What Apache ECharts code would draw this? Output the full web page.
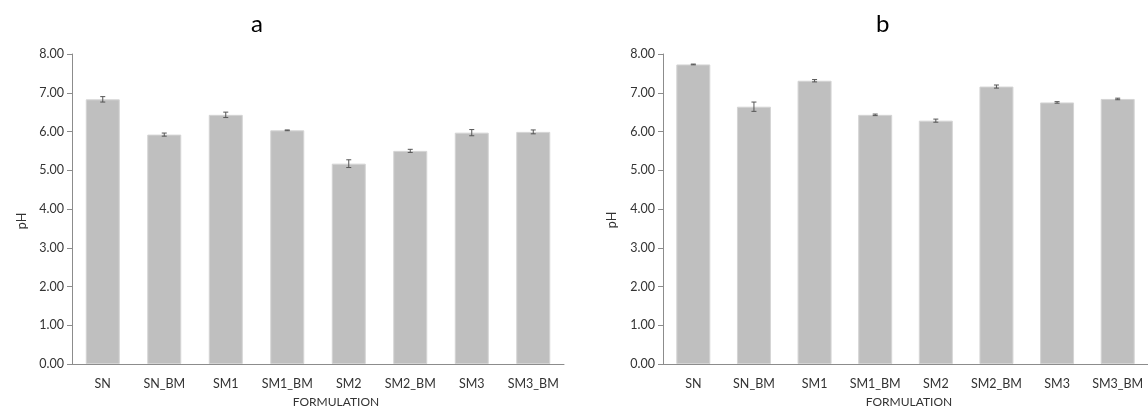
<!DOCTYPE html>
<html>
<head>
<meta charset="utf-8">
<script src="https://cdn.jsdelivr.net/npm/echarts@6/dist/echarts.min.js"></script>
<style>
  html, body { margin: 0; padding: 0; background: #fff; }
  #chart { width: 1148px; height: 408px; }
</style>
</head>
<body>
<div id="chart"></div>
<script>
// Formulations shown on both panels
const categories = ['SN', 'SN_BM', 'SM1', 'SM1_BM', 'SM2', 'SM2_BM', 'SM3', 'SM3_BM'];

// Panel a: mean pH and standard deviation
const phA = [6.83, 5.92, 6.43, 6.03, 5.17, 5.50, 5.97, 5.99];
const errA = [0.07, 0.04, 0.07, 0.01, 0.10, 0.04, 0.08, 0.05];

// Panel b: mean pH and standard deviation
const phB = [7.73, 6.64, 7.31, 6.43, 6.28, 7.16, 6.75, 6.84];
const errB = [0.01, 0.12, 0.03, 0.02, 0.04, 0.04, 0.02, 0.02];

const yTicks = { min: 0, max: 8, interval: 1 };

const FONT = 'Lato';
const TEXT = '#333333';
const AXIS = '#8c8c8c';
const BAR = '#bfbfbf';

const chart = echarts.init(document.getElementById('chart'));

function errorSeries(idx, means, errs) {
  return {
    type: 'custom',
    xAxisIndex: idx,
    yAxisIndex: idx,
    z: 10,
    data: means.map((m, i) => [i, m - errs[i], m + errs[i]]),
    renderItem: function (params, api) {
      const x = api.value(0);
      const lo = api.coord([x, api.value(1)]);
      const hi = api.coord([x, api.value(2)]);
      const half = 2.5;
      const style = { stroke: '#555', lineWidth: 1 };
      return {
        type: 'group',
        children: [
          { type: 'line', shape: { x1: lo[0], y1: lo[1], x2: hi[0], y2: hi[1] }, style },
          { type: 'line', shape: { x1: hi[0] - half, y1: hi[1], x2: hi[0] + half, y2: hi[1] }, style },
          { type: 'line', shape: { x1: lo[0] - half, y1: lo[1], x2: lo[0] + half, y2: lo[1] }, style }
        ]
      };
    }
  };
}

function xAxisFor(idx) {
  return {
    type: 'category',
    gridIndex: idx,
    data: categories,
    axisLine: { lineStyle: { color: AXIS, width: 1 } },
    axisTick: { show: false },
    axisLabel: { interval: 0, color: TEXT, fontFamily: FONT, fontSize: 12.5, margin: 13 }
  };
}

function yAxisFor(idx) {
  return {
    type: 'value',
    gridIndex: idx,
    min: yTicks.min,
    max: yTicks.max,
    interval: yTicks.interval,
    splitLine: { show: false },
    axisLine: { show: true, lineStyle: { color: AXIS, width: 1 } },
    axisTick: { show: true, length: 5, lineStyle: { color: AXIS } },
    axisLabel: {
      color: TEXT, fontFamily: FONT, fontSize: 12.5, margin: 8,
      formatter: v => v.toFixed(2)
    }
  };
}

function barSeries(idx, values) {
  return {
    type: 'bar',
    xAxisIndex: idx,
    yAxisIndex: idx,
    data: values,
    barWidth: 34,
    itemStyle: { color: BAR, borderColor: '#d4d4d4', borderWidth: 1 }
  };
}

const textStyle = (size) => ({ fontFamily: FONT, fontSize: size, fill: TEXT, fontWeight: 'normal' });

chart.setOption({
  animation: false,
  backgroundColor: '#ffffff',
  grid: [
    { left: 72, top: 54, width: 492, height: 310 },
    { left: 663, top: 54, width: 492, height: 310 }
  ],
  xAxis: [xAxisFor(0), xAxisFor(1)],
  yAxis: [yAxisFor(0), yAxisFor(1)],
  series: [
    barSeries(0, phA),
    errorSeries(0, phA, errA),
    barSeries(1, phB),
    errorSeries(1, phB, errB)
  ],
  graphic: [
    { type: 'text', left: 251, top: 12, style: Object.assign(textStyle(24), { fill: '#000', text: 'a' }) },
    { type: 'text', left: 876, top: 12, style: Object.assign(textStyle(24), { fill: '#000', text: 'b' }) },
    { type: 'text', x: 336, y: 402, style: Object.assign(textStyle(12), { text: 'FORMULATION', align: 'center', verticalAlign: 'middle' }) },
    { type: 'text', x: 909, y: 402, style: Object.assign(textStyle(12), { text: 'FORMULATION', align: 'center', verticalAlign: 'middle' }) },
    { type: 'text', x: 22, y: 221, rotation: Math.PI / 2, style: Object.assign(textStyle(12.5), { text: 'pH', align: 'center', verticalAlign: 'middle' }) },
    { type: 'text', x: 612, y: 220, rotation: Math.PI / 2, style: Object.assign(textStyle(12.5), { text: 'pH', align: 'center', verticalAlign: 'middle' }) }
  ]
});
</script>
</body>
</html>
